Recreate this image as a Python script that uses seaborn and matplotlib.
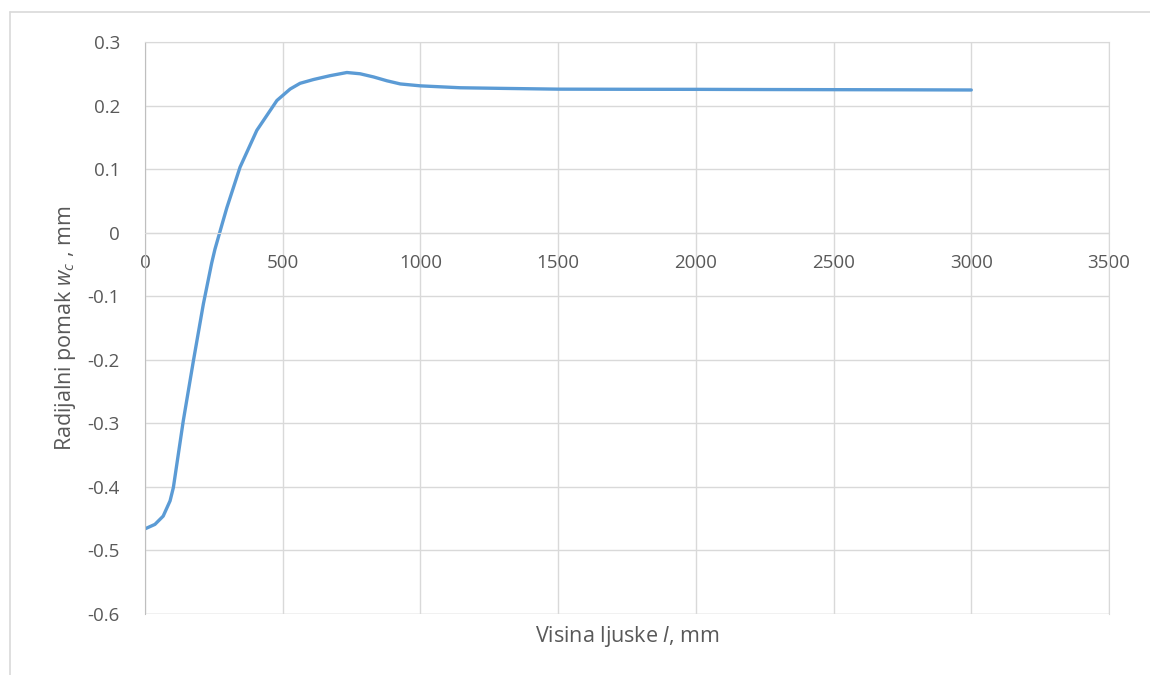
import numpy as np
import pandas as pd
import matplotlib
matplotlib.use("Agg")
import matplotlib.pyplot as plt
from matplotlib.lines import Line2D
import seaborn as sns

# Podaci očitani s grafa
visina_l = [0, 36, 66, 91, 103, 139, 176, 212, 242, 254, 279, 297, 345, 406,
            479, 527, 563, 612, 672, 733, 781, 830, 878, 927, 1000, 1145, 1300,
            1500, 1750, 2000, 2250, 2500, 2750, 3000]
pomak_wc = [-0.466, -0.459, -0.446, -0.422, -0.401, -0.296, -0.201, -0.112,
            -0.048, -0.026, 0.012, 0.039, 0.103, 0.161, 0.208, 0.226, 0.235,
            0.241, 0.247, 0.252, 0.250, 0.245, 0.239, 0.234, 0.231, 0.228,
            0.227, 0.2258, 0.2256, 0.2255, 0.2252, 0.2250, 0.2248, 0.2245]

x_ticks = [0, 500, 1000, 1500, 2000, 2500, 3000, 3500]
x_tick_labels = ["0", "500", "1000", "1500", "2000", "2500", "3000", "3500"]
y_ticks = [0.3, 0.2, 0.1, 0.0, -0.1, -0.2, -0.3, -0.4, -0.5, -0.6]
y_tick_labels = ["0.3", "0.2", "0.1", "0", "-0.1", "-0.2", "-0.3", "-0.4", "-0.5", "-0.6"]

df = pd.DataFrame({"l": visina_l, "wc": pomak_wc})

sns.set_style("white")
plt.rcParams["font.family"] = ["Open Sans", "DejaVu Sans"]
plt.rcParams["mathtext.fontset"] = "custom"
plt.rcParams["mathtext.it"] = "Open Sans:italic"
plt.rcParams["mathtext.rm"] = "Open Sans"

W, H = 1150, 675
fig = plt.figure(figsize=(W / 100, H / 100), dpi=100)
ax = fig.add_axes([145 / W, 1 - 614 / H, (1109 - 145) / W, (614 - 42) / H])

# vanjski okvir (gornja i lijeva linija)
fig.add_artist(Line2D([10 / W, 1], [1 - 12 / H, 1 - 12 / H], color="#d9d9d9", lw=1.2,
                      transform=fig.transFigure))
fig.add_artist(Line2D([10 / W, 10 / W], [0, 1 - 12 / H], color="#d9d9d9", lw=1.2,
                      transform=fig.transFigure))

sns.lineplot(data=df, x="l", y="wc", ax=ax, color="#5B9BD5", linewidth=2.4)

ax.set_xlim(0, 3500)
ax.set_ylim(-0.6, 0.3)
ax.set_xticks(x_ticks)
ax.set_xticklabels(x_tick_labels)
ax.set_yticks(y_ticks)
ax.set_yticklabels(y_tick_labels)

ax.grid(True, color="#d9d9d9", linewidth=1.0)
ax.set_axisbelow(True)
for s in ["top", "right"]:
    ax.spines[s].set_color("#d9d9d9")
ax.spines["left"].set_color("#bfbfbf")
ax.spines["bottom"].set_color("#d9d9d9")
# x os prolazi kroz 0 kao u Excelu
ax.spines["bottom"].set_position(("data", 0))
ax.axhline(-0.6, color="#d9d9d9", lw=1.0, zorder=0)

ax.tick_params(axis="both", length=0, labelsize=13.5, labelcolor="#595959")
ax.tick_params(axis="x", pad=15)
ax.tick_params(axis="y", pad=18)

ax.set_xlabel("Visina ljuske $l$, mm", fontsize=15.5, color="#595959")
ax.set_ylabel("Radijalni pomak $w_c$ , mm", fontsize=15.5, color="#595959")
ax.xaxis.set_label_coords(0.5, -0.018)
ax.yaxis.set_label_coords(-0.070, 0.5)

fig.savefig("out.png", dpi=100, facecolor="white")
plt.close(fig)
